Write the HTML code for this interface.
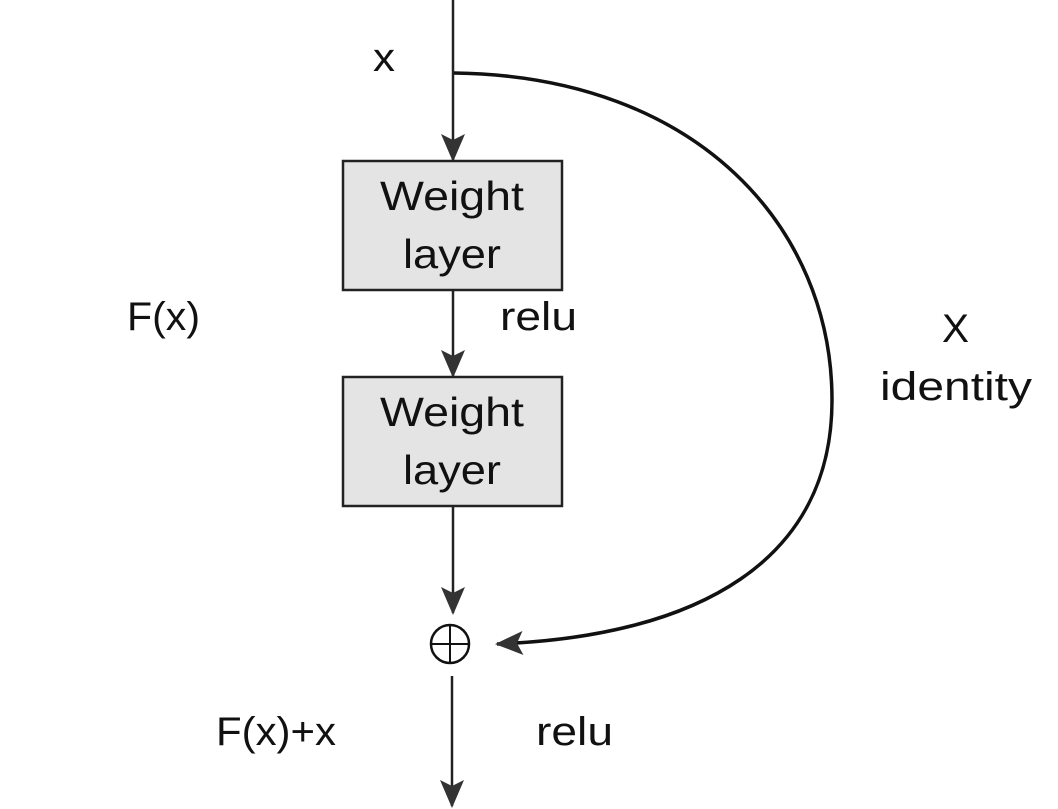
<!DOCTYPE html>
<html><head><meta charset="utf-8"><style>
html,body{margin:0;padding:0;background:#fff;}
svg{display:block;}
text{font-family:"Liberation Sans",sans-serif;fill:#111;}
</style></head><body>
<svg width="1058" height="809" viewBox="0 0 1058 809" xmlns="http://www.w3.org/2000/svg">
<defs>
<marker id="b" markerWidth="28" markerHeight="24" refX="26" refY="12" orient="auto" markerUnits="userSpaceOnUse" viewBox="0 0 28 24">
<path d="M0,0 L28,12 L0,24 L6,12 Z" fill="#333"/>
</marker>
</defs>
<line x1="453" y1="0" x2="453" y2="160" stroke="#222" stroke-width="2.5" marker-end="url(#b)"/>
<rect x="343" y="161" width="219" height="129" fill="#e4e4e4" stroke="#222" stroke-width="2.5"/>
<text x="380" y="210" font-size="41" textLength="144" lengthAdjust="spacingAndGlyphs">Weight</text>
<text x="403" y="268" font-size="41" textLength="98" lengthAdjust="spacingAndGlyphs">layer</text>
<line x1="453" y1="290" x2="453" y2="376" stroke="#222" stroke-width="2.5" marker-end="url(#b)"/>
<rect x="343" y="377" width="219" height="129" fill="#e4e4e4" stroke="#222" stroke-width="2.5"/>
<text x="380" y="426" font-size="41" textLength="144" lengthAdjust="spacingAndGlyphs">Weight</text>
<text x="403" y="484" font-size="41" textLength="98" lengthAdjust="spacingAndGlyphs">layer</text>
<line x1="453" y1="506" x2="453" y2="613" stroke="#222" stroke-width="2.5" marker-end="url(#b)"/>
<circle cx="450" cy="644" r="19" fill="none" stroke="#111" stroke-width="2.5"/>
<line x1="431" y1="644" x2="469" y2="644" stroke="#111" stroke-width="2"/>
<line x1="450" y1="625" x2="450" y2="663" stroke="#111" stroke-width="2"/>
<line x1="452" y1="676" x2="452" y2="806" stroke="#222" stroke-width="2.5" marker-end="url(#b)"/>
<path d="M454,73 C700,76 832,230 832,400 C832,560 700,636 497,644" fill="none" stroke="#111" stroke-width="3.5" marker-end="url(#b)"/>
<text x="373" y="71" font-size="40" textLength="22" lengthAdjust="spacingAndGlyphs">x</text>
<text x="127" y="330" font-size="40" textLength="73" lengthAdjust="spacingAndGlyphs">F(x)</text>
<text x="500" y="330" font-size="40" textLength="77" lengthAdjust="spacingAndGlyphs">relu</text>
<text x="942" y="342" font-size="40" textLength="27" lengthAdjust="spacingAndGlyphs">X</text>
<text x="880" y="400" font-size="40" textLength="152" lengthAdjust="spacingAndGlyphs">identity</text>
<text x="216" y="745" font-size="40" textLength="120" lengthAdjust="spacingAndGlyphs">F(x)+x</text>
<text x="536" y="745" font-size="40" textLength="77" lengthAdjust="spacingAndGlyphs">relu</text>
</svg>
</body></html>
